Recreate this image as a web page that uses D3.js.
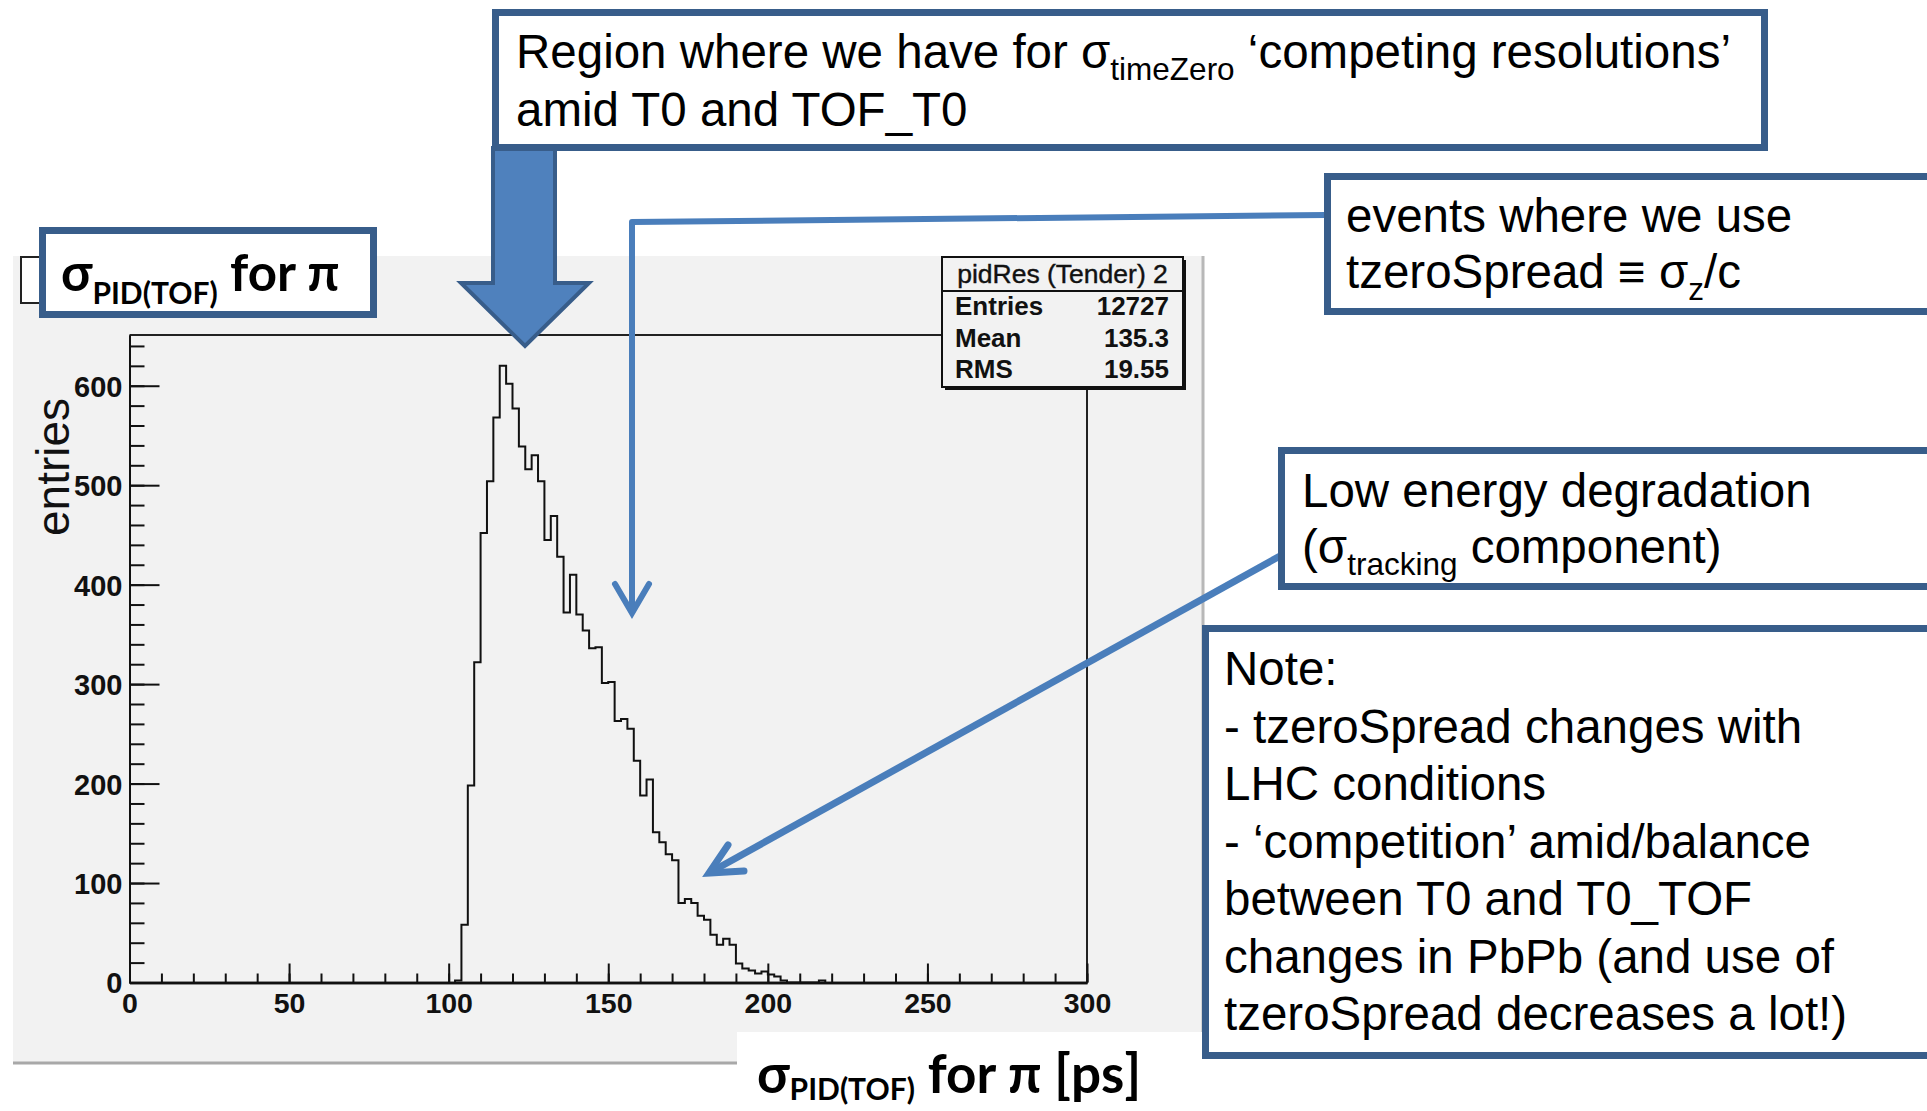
<!DOCTYPE html>
<html>
<head>
<meta charset="utf-8">
<script src="https://cdn.jsdelivr.net/npm/d3@7"></script>
<style>
  body { margin: 0; background: #fff; }
  svg { display: block; }
</style>
</head>
<body>
<svg id="fig" width="1927" height="1111"></svg>
<script>
// σ_PID(TOF) for pions: histogram with 2 ps wide bins starting at 102 ps
const binLow = 102;
const binWidth = 2;
const counts = [2, 58, 198, 322, 452, 504, 568, 620, 602, 577,
                539, 516, 530, 504, 445, 469, 428, 372, 410, 370,
                354, 336, 337, 301, 302, 263, 265, 255, 223, 188,
                204, 151, 141, 129, 123, 80, 84, 80, 67, 63,
                48, 38, 44, 38, 19, 14, 12, 9, 11, 8,
                6, 2, 0, 0, 0, 0, 0, 2];

const xRange = [0, 300];
const xMajorTicks = [0, 50, 100, 150, 200, 250, 300];
const xMinorTicks = d3.range(0, 301, 10);
const yMajorTicks = [0, 100, 200, 300, 400, 500, 600];
const yMinorTicks = d3.range(0, 641, 20);

const statsTitle = "pidRes (Tender) 2";
const statsLabels = ["Entries", "Mean", "RMS"];
const statsValues = ["12727", "135.3", "19.55"];

const svg = d3.select("#fig");
const SANS = "'Liberation Sans', Arial, Helvetica, sans-serif";
const BOLDSANS = "Lato, 'Open Sans', sans-serif";
const BOX_EDGE = "#385D8A";
const ARROW_FILL = "#4F81BD";
const LINK = "#4A7EBB";

// ---------- canvas pad ----------
svg.append("rect").attr("x", 13).attr("y", 256).attr("width", 1190).attr("height", 807)
  .attr("fill", "#f2f2f2");
svg.append("line").attr("x1", 1203).attr("x2", 1203).attr("y1", 256).attr("y2", 1064)
  .attr("stroke", "#b8b8b8").attr("stroke-width", 3);
svg.append("line").attr("x1", 13).attr("x2", 1204).attr("y1", 1063).attr("y2", 1063)
  .attr("stroke", "#a8a8a8").attr("stroke-width", 3);

// little histogram-title box peeking from under the label
svg.append("rect").attr("x", 21).attr("y", 257).attr("width", 60).attr("height", 46)
  .attr("fill", "#fff").attr("stroke", "#222").attr("stroke-width", 2);

// ---------- scales ----------
const yMax = d3.max(counts) * 1.05;
const x = d3.scaleLinear().domain(xRange).range([129.5, 1087]);
const y = d3.scaleLinear().domain([0, yMax]).range([982.5, 335]);

// frame
svg.append("path")
  .attr("d", `M${x(0)},${y(yMax)}H${x(300)}V${y(0)}`)
  .attr("fill", "none").attr("stroke", "#222").attr("stroke-width", 2);

// ---------- histogram outline ----------
const pts = [[binLow, 0]];
counts.forEach((c, i) => pts.push([binLow + i * binWidth, c]));
pts.push([binLow + counts.length * binWidth, 0]);
svg.append("path")
  .datum(pts)
  .attr("d", d3.line().x(d => x(d[0])).y(d => y(d[1])).curve(d3.curveStepAfter))
  .attr("fill", "none").attr("stroke", "#111").attr("stroke-width", 2);

// ---------- axes (ticks point into the frame) ----------
const gx = svg.append("g").attr("transform", `translate(0,${y(0)})`);
gx.append("g").call(d3.axisBottom(x).tickValues(xMinorTicks).tickSize(-9).tickSizeOuter(0).tickFormat(""));
gx.append("g").call(d3.axisBottom(x).tickValues(xMajorTicks).tickSize(-19).tickSizeOuter(0).tickFormat(d3.format("d")));
gx.selectAll(".domain").attr("stroke", "#111").attr("stroke-width", 2.5);
gx.selectAll(".tick line").attr("stroke", "#111").attr("stroke-width", 2);
gx.selectAll(".tick text")
  .attr("y", 30.5).attr("dy", null)
  .attr("font-family", SANS).attr("font-weight", "bold").attr("font-size", 28.5).attr("fill", "#111");

const gy = svg.append("g").attr("transform", `translate(${x(0)},0)`);
gy.append("g").call(d3.axisLeft(y).tickValues(yMinorTicks).tickSize(-15).tickSizeOuter(0).tickFormat(""));
gy.append("g").call(d3.axisLeft(y).tickValues(yMajorTicks).tickSize(-30).tickSizeOuter(0).tickPadding(7).tickFormat(d3.format("d")));
gy.selectAll(".domain").attr("stroke", "#111").attr("stroke-width", 2);
gy.selectAll(".tick line").attr("stroke", "#111").attr("stroke-width", 2);
gy.selectAll(".tick text")
  .attr("dy", "0.36em")
  .attr("font-family", SANS).attr("font-weight", "bold").attr("font-size", 29).attr("fill", "#111");

// y axis title
svg.append("text")
  .attr("transform", "translate(69,467) rotate(-90)")
  .attr("text-anchor", "middle")
  .attr("font-family", SANS).attr("font-size", 46).attr("fill", "#111")
  .text("entries");

// ---------- statistics box ----------
const sb = { x: 942, y: 257, w: 241, h: 130 };
svg.append("rect").attr("x", sb.x + 3).attr("y", sb.y + 3).attr("width", sb.w).attr("height", sb.h).attr("fill", "#111");
svg.append("rect").attr("x", sb.x).attr("y", sb.y).attr("width", sb.w).attr("height", sb.h)
  .attr("fill", "#f2f2f2").attr("stroke", "#111").attr("stroke-width", 2);
svg.append("line").attr("x1", sb.x).attr("x2", sb.x + sb.w).attr("y1", 291).attr("y2", 291)
  .attr("stroke", "#111").attr("stroke-width", 2);
svg.append("text").attr("x", sb.x + sb.w / 2).attr("y", 283).attr("text-anchor", "middle")
  .attr("font-family", SANS).attr("font-size", 26.5).attr("fill", "#111")
  .attr("stroke", "#111").attr("stroke-width", 0.4).text(statsTitle);
const rowY = [315, 347, 378];
statsLabels.forEach((lab, i) => {
  svg.append("text").attr("x", 955).attr("y", rowY[i])
    .attr("font-family", SANS).attr("font-weight", "bold").attr("font-size", 26).attr("fill", "#111").text(lab);
  svg.append("text").attr("x", 1169).attr("y", rowY[i]).attr("text-anchor", "end")
    .attr("font-family", SANS).attr("font-weight", "bold").attr("font-size", 26).attr("fill", "#111").text(statsValues[i]);
});

// ---------- text with subscripts ----------
function richText(x0, y0, segs, o) {
  const t = svg.append("text").attr("x", x0).attr("y", y0)
    .attr("font-family", o.family).attr("font-size", o.size)
    .attr("font-weight", o.weight || "normal").attr("fill", "#000");
  let shift = 0;
  segs.forEach(s => {
    const target = s.sub ? o.subShift : 0;
    const ts = t.append("tspan").attr("dy", target - shift).text(s.t);
    if (s.sub) ts.attr("font-size", o.subSize);
    shift = target;
  });
  return t;
}

// x axis title on a white patch
svg.append("rect").attr("x", 737).attr("y", 1032).attr("width", 600).attr("height", 79).attr("fill", "#fff");
richText(757, 1093, [{ t: "σ" }, { t: "PID(TOF)", sub: true }, { t: " for π [ps]" }],
  { family: BOLDSANS, size: 53, weight: "bold", subSize: 30, subShift: 7 });

// ---------- block arrow to the resolution peak ----------
svg.append("path")
  .attr("d", d3.line()([[493, 148], [555, 148], [555, 283], [589, 283], [525, 346], [461, 283], [493, 283]]) + "Z")
  .attr("fill", ARROW_FILL).attr("stroke", BOX_EDGE).attr("stroke-width", 4).attr("stroke-linejoin", "miter");

// ---------- connector arrows ----------
function openArrow(points, tip, wings, width) {
  svg.append("path").attr("d", d3.line()(points.concat([tip])))
    .attr("fill", "none").attr("stroke", LINK).attr("stroke-width", width).attr("stroke-linejoin", "round");
  svg.append("path").attr("d", d3.line()([wings[0], tip, wings[1]]))
    .attr("fill", "none").attr("stroke", LINK).attr("stroke-width", width)
    .attr("stroke-linecap", "round").attr("stroke-linejoin", "miter");
}
openArrow([[1326, 215], [632, 222]], [632, 613], [[615, 584], [649, 584]], 6);
openArrow([[1280, 556]], [709, 873], [[728, 845], [744, 871]], 7);

// ---------- annotation boxes ----------
function box(x0, y0, w, h) {
  svg.append("rect").attr("x", x0 + 3.5).attr("y", y0 + 3.5).attr("width", w - 7).attr("height", h - 7)
    .attr("fill", "#fff").attr("stroke", BOX_EDGE).attr("stroke-width", 7);
}

// label box
box(39, 227, 338, 91);
richText(61, 291, [{ t: "σ" }, { t: "PID(TOF)", sub: true }, { t: " for π" }],
  { family: BOLDSANS, size: 51, weight: "bold", subSize: 30, subShift: 13 });

const ANN = { family: SANS, size: 47.5, subSize: 31.5, subShift: 12 };

box(492, 9, 1276, 142);
richText(516, 68, [{ t: "Region where we have for σ" }, { t: "timeZero", sub: true }, { t: " ‘competing resolutions’" }], ANN);
richText(516, 126, [{ t: "amid T0 and TOF_T0" }], ANN);

box(1324, 173, 610, 142);
richText(1346, 232, [{ t: "events where we use" }], ANN);
richText(1346, 288, [{ t: "tzeroSpread ≡ σ" }, { t: "z", sub: true }, { t: "/c" }], ANN);

box(1278, 447, 660, 143);
richText(1302, 507, [{ t: "Low energy degradation" }], ANN);
richText(1302, 563, [{ t: "(σ" }, { t: "tracking", sub: true }, { t: " component)" }], ANN);

box(1202, 625, 740, 434);
const noteLines = [
  "Note:",
  "- tzeroSpread changes with",
  "LHC conditions",
  "- ‘competition’ amid/balance",
  "between T0 and T0_TOF",
  "changes in PbPb (and use of",
  "tzeroSpread decreases a lot!)"
];
noteLines.forEach((ln, i) => richText(1224, 685 + i * 57.5, [{ t: ln }], ANN));
</script>
</body>
</html>
